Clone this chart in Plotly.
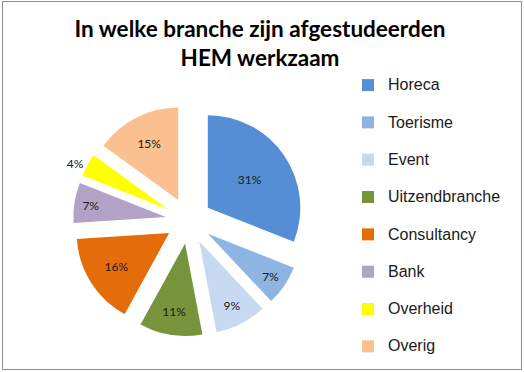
import plotly.graph_objects as go

categories = ["Horeca", "Toerisme", "Event", "Uitzendbranche", "Consultancy", "Bank", "Overheid", "Overig"]
values = [31, 7, 9, 11, 16, 7, 4, 15]
colors = ["#558ED5", "#8EB4E3", "#C6D9F1", "#77933C", "#E46C0A", "#B3A2C7", "#FFFF00", "#FAC090"]
text_positions = ["inside", "inside", "inside", "inside", "inside", "inside", "outside", "inside"]

W, H = 524, 372
legend_labels = ["<span style='font-size:16px'>%s</span><br>&nbsp;" % c for c in categories]

fig = go.Figure(go.Pie(
    labels=legend_labels,
    values=values,
    sort=False,
    direction="clockwise",
    rotation=0,
    pull=0.25,
    marker=dict(colors=colors, line=dict(width=0)),
    textinfo="percent",
    texttemplate="%{percent:.0%}",
    textposition=text_positions,
    insidetextorientation="horizontal",
    textfont=dict(family="Lato", size=12, color="#1a1a1a"),
    domain=dict(x=[73.1 / W, 304.3 / W], y=[1 - 336.3 / H, 1 - 105.1 / H]),
    hoverinfo="label+percent",
))

fig.update_layout(
    width=W, height=H,
    margin=dict(l=0, r=0, t=0, b=0, autoexpand=False),
    paper_bgcolor="white",
    plot_bgcolor="white",
    title=dict(
        text="<b>In welke branche zijn afgestudeerden<br>HEM werkzaam</b>",
        x=260 / W, xanchor="center",
        y=1 - 36.5 / H, yanchor="top", yref="container",
        font=dict(family="Lato", size=22.5, color="#000000"),
    ),
    legend=dict(
        x=348 / W, xanchor="left",
        y=1 - 70 / H, yanchor="top",
        font=dict(family="Liberation Sans, Arial", size=13.2, color="#1a1a1a"),
        valign="top",
        itemwidth=30,
        bgcolor="rgba(0,0,0,0)",
    ),
    shapes=[dict(type="rect", xref="paper", yref="paper",
                 x0=2.5 / W, x1=521.5 / W, y0=1 - 369.5 / H, y1=1 - 1.5 / H,
                 line=dict(color="#8c8c8c", width=1), fillcolor="rgba(0,0,0,0)")],
)

fig.write_html("out.html", config={"displayModeBar": False},
               post_script="document.body.style.margin='0';document.body.style.overflow='hidden';")
